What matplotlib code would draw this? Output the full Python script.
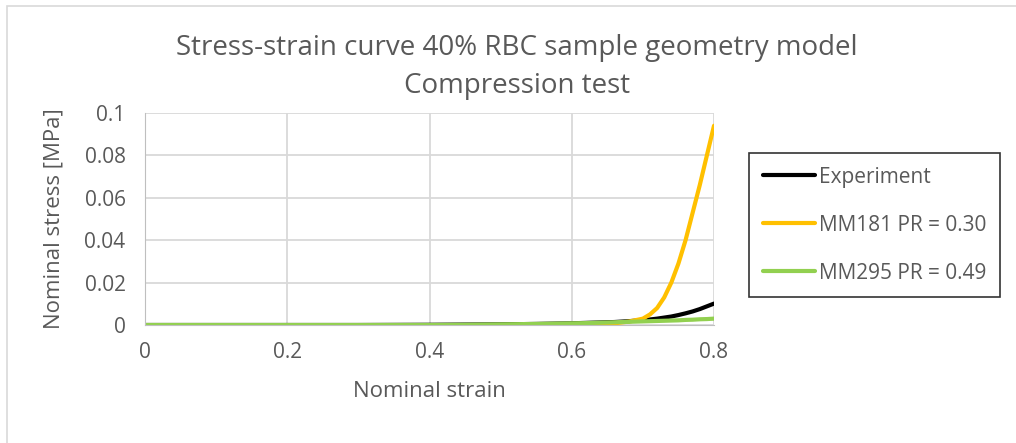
import matplotlib
matplotlib.use("Agg")
import matplotlib.pyplot as plt
from matplotlib.patches import Rectangle

plt.rcParams['font.family'] = ['Open Sans', 'DejaVu Sans']

# Nominal strain sample points
strain = [0.0, 0.1, 0.2, 0.3, 0.4, 0.45, 0.5, 0.55, 0.6, 0.62, 0.64, 0.66, 0.68,
          0.70, 0.71, 0.72, 0.73, 0.74, 0.75, 0.76, 0.77, 0.78, 0.79, 0.80]

# Nominal stress [MPa]
experiment = [0.0, 0.0, 0.0, 0.0, 0.0001, 0.0002, 0.0003, 0.0005, 0.0008, 0.0010, 0.0012,
              0.0014, 0.0018, 0.0023, 0.0026, 0.0030, 0.0035, 0.0040, 0.0047, 0.0055,
              0.0064, 0.0075, 0.0088, 0.0101]
mm181 = [-0.0003, -0.0003, -0.0003, -0.0003, -0.0003, -0.0003, -0.0003, -0.0002, 0.0, 0.0002,
         0.0004, 0.0008, 0.0016, 0.0030, 0.0050, 0.0080, 0.0130, 0.0200, 0.0290, 0.0400,
         0.0530, 0.0660, 0.0800, 0.0940]
mm295 = [0.0, 0.0, 0.0, 0.0, 0.0, 0.0001, 0.0003, 0.0005, 0.0008, 0.0009, 0.0011,
         0.0013, 0.0015, 0.0017, 0.0018, 0.0019, 0.0020, 0.0021, 0.0022, 0.0024,
         0.0025, 0.0027, 0.0028, 0.0030]

series_names = ["Experiment", "MM181 PR = 0.30", "MM295 PR = 0.49"]
series_colors = ["#000000", "#FFC000", "#92D050"]

x_ticks = [0, 0.2, 0.4, 0.6, 0.8]
x_tick_labels = ["0", "0.2", "0.4", "0.6", "0.8"]
y_ticks = [0, 0.02, 0.04, 0.06, 0.08, 0.1]
y_tick_labels = ["0", "0.02", "0.04", "0.06", "0.08", "0.1"]

W, H = 1016, 443
fig = plt.figure(figsize=(W / 100, H / 100), dpi=100)

# chart frame
fig.patches.append(Rectangle((7 / W, -0.05), 1.1, (H - 6) / H + 0.05,
                             transform=fig.transFigure, fill=False,
                             edgecolor="#d9d9d9", linewidth=1.2))

ax = fig.add_axes([145 / W, 1 - 325 / H, (714 - 145) / W, (325 - 113) / H])
text_color = "#595959"

for y, name, c in zip([experiment, mm181, mm295], series_names, series_colors):
    ax.plot(strain, y, color=c, linewidth=3, label=name, solid_capstyle="round")

ax.set_xlim(0, 0.8)
ax.set_ylim(0, 0.1)
ax.set_xticks(x_ticks)
ax.set_xticklabels(x_tick_labels)
ax.set_yticks(y_ticks)
ax.set_yticklabels(y_tick_labels)
ax.grid(True, color="#d9d9d9", linewidth=1.3)
ax.set_axisbelow(True)
for side in ["top", "right"]:
    ax.spines[side].set_visible(False)
ax.spines["left"].set_color("#bfbfbf")
ax.spines["bottom"].set_color("#bfbfbf")
ax.tick_params(length=0, labelsize=15, labelcolor=text_color)
ax.tick_params(axis="x", pad=12)
ax.tick_params(axis="y", pad=14)
ax.set_xlabel("Nominal strain", fontsize=16, color=text_color, labelpad=13)
ax.set_ylabel("Nominal stress [MPa]", fontsize=16, color=text_color, labelpad=14)

fig.text(517 / W, 1 - 48 / H, "Stress-strain curve 40% RBC sample geometry model",
         ha="center", va="center", fontsize=20, color=text_color)
fig.text(517 / W, 1 - 86 / H, "Compression test",
         ha="center", va="center", fontsize=20, color=text_color)

leg = fig.legend(loc="upper left", bbox_to_anchor=(749 / W, 1 - 153 / H),
                 frameon=True, fancybox=False, fontsize=15, labelcolor=text_color,
                 handlelength=2.5, handletextpad=0.2, labelspacing=1.3,
                 borderpad=0.65, borderaxespad=0)
leg.get_frame().set_edgecolor("#000000")
leg.get_frame().set_linewidth(1.2)

fig.savefig("out.png", dpi=100)
